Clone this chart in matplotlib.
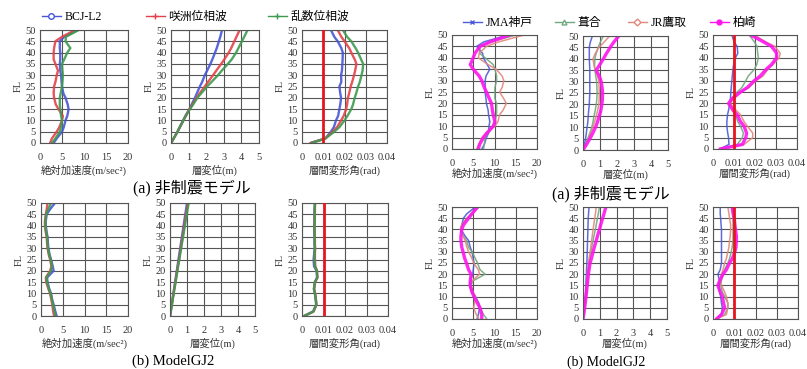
import matplotlib
matplotlib.use('Agg')
import matplotlib.pyplot as plt
from matplotlib.lines import Line2D

plt.rcParams['font.family'] = ['Liberation Serif', 'Noto Sans CJK JP']

# floor levels shared by every profile
FL = [0, 2, 5, 7, 10, 12, 15, 17, 20, 22, 25, 27, 30, 32, 35, 37, 40, 42, 45, 47, 50]

# ---- left group: BCJ-L2 / 咲洲位相波 / 乱数位相波 ----
names_l = ['BCJ-L2', '咲洲位相波', '乱数位相波']

acc_a_l = [
    [3.1, 3.8, 5.0, 5.4, 5.8, 6.2, 6.5, 6.3, 5.8, 5.3, 5.0, 4.9, 4.8, 4.6, 4.5, 4.6, 4.6, 4.5, 4.5, 5.5, 8.5],
    [2.3, 2.7, 3.8, 4.4, 5.0, 5.2, 4.2, 3.6, 3.2, 3.1, 3.2, 3.5, 3.8, 4.1, 3.5, 3.1, 3.1, 3.2, 3.5, 5.0, 8.0],
    [2.7, 3.5, 4.5, 4.8, 5.0, 4.8, 4.6, 4.5, 4.5, 4.7, 5.0, 5.1, 5.2, 5.1, 5.0, 5.5, 6.2, 6.9, 5.8, 5.9, 8.8],
]
disp_a_l = [
    [0, 0.15, 0.37, 0.5, 0.7, 0.82, 1.05, 1.17, 1.36, 1.47, 1.64, 1.77, 1.92, 2.05, 2.24, 2.35, 2.5, 2.6, 2.72, 2.8, 2.9],
    [0, 0.15, 0.37, 0.5, 0.7, 0.84, 1.05, 1.22, 1.45, 1.63, 1.92, 2.1, 2.39, 2.57, 2.85, 3.03, 3.28, 3.42, 3.6, 3.72, 3.9],
    [0, 0.15, 0.37, 0.5, 0.7, 0.84, 1.08, 1.25, 1.5, 1.72, 2.05, 2.3, 2.67, 2.88, 3.23, 3.45, 3.7, 3.83, 4.03, 4.16, 4.35],
]
drift_a_l = [
    [0.004, 0.011, 0.0136, 0.015, 0.016, 0.017, 0.0176, 0.018, 0.0184, 0.018, 0.0176, 0.0185, 0.0184, 0.0188, 0.019, 0.0191, 0.0192, 0.0185, 0.0168, 0.0152, 0.0136],
    [0.004, 0.011, 0.0144, 0.0165, 0.0184, 0.0196, 0.0208, 0.0212, 0.0216, 0.0222, 0.0229, 0.0236, 0.0245, 0.025, 0.0256, 0.0248, 0.0232, 0.0222, 0.02, 0.0185, 0.0168],
    [0.0045, 0.011, 0.0152, 0.0176, 0.02, 0.0214, 0.0232, 0.024, 0.0248, 0.0255, 0.0264, 0.0272, 0.028, 0.0285, 0.0288, 0.0278, 0.0264, 0.0252, 0.0232, 0.0212, 0.0192],
]
acc_b_l = [
    [3.6, 3.3, 2.9, 2.6, 2.3, 1.9, 1.5, 1.4, 2.9, 2.7, 2.3, 2.0, 1.7, 1.6, 1.5, 1.3, 1.1, 1.1, 1.3, 2.0, 3.2],
    [3.0, 2.8, 2.6, 2.4, 2.1, 1.7, 1.2, 1.1, 2.1, 2.4, 2.1, 1.8, 1.5, 1.4, 1.3, 1.1, 0.9, 0.9, 1.1, 1.3, 1.5],
    [3.3, 3.1, 2.8, 2.5, 2.2, 1.8, 1.4, 1.2, 2.3, 2.5, 2.2, 1.9, 1.6, 1.5, 1.4, 1.2, 1.0, 1.0, 1.2, 1.6, 2.3],
]
disp_b_l = [
    [0, 0.04, 0.1, 0.14, 0.2, 0.24, 0.3, 0.34, 0.4, 0.44, 0.5, 0.54, 0.6, 0.64, 0.7, 0.74, 0.8, 0.84, 0.9, 0.94, 1.0],
    [0, 0.04, 0.11, 0.15, 0.21, 0.25, 0.32, 0.36, 0.42, 0.46, 0.53, 0.57, 0.63, 0.67, 0.74, 0.78, 0.84, 0.88, 0.95, 0.99, 1.05],
    [0, 0.05, 0.11, 0.15, 0.22, 0.26, 0.33, 0.37, 0.44, 0.48, 0.55, 0.59, 0.66, 0.7, 0.77, 0.81, 0.88, 0.92, 0.99, 1.03, 1.1],
]
drift_b_l = [
    [0.001, 0.0052, 0.0066, 0.0064, 0.006, 0.0056, 0.006, 0.007, 0.0068, 0.0056, 0.0054, 0.0056, 0.0059, 0.0058, 0.0058, 0.0057, 0.0057, 0.0058, 0.0058, 0.0058, 0.006],
    [0.001, 0.0054, 0.0067, 0.0065, 0.0061, 0.0056, 0.0061, 0.0072, 0.007, 0.0062, 0.006, 0.006, 0.0061, 0.006, 0.006, 0.0059, 0.0059, 0.0059, 0.006, 0.006, 0.0061],
    [0.001, 0.0053, 0.0066, 0.0065, 0.006, 0.0055, 0.006, 0.0071, 0.0069, 0.006, 0.0058, 0.0058, 0.006, 0.0059, 0.0059, 0.0058, 0.0058, 0.0059, 0.0059, 0.0059, 0.006],
]

# ---- right group: JMA神戸 / 葺合 / JR鷹取 / 柏崎 ----
names_r = ['JMA神戸', '葺合', 'JR鷹取', '柏崎']

acc_a_r = [
    [7.0, 7.6, 8.1, 8.6, 8.7, 8.9, 8.6, 8.5, 8.1, 8.0, 7.8, 7.8, 7.8, 8.0, 8.9, 8.3, 7.4, 7.2, 5.8, 7.5, 13.2],
    [7.4, 7.6, 7.8, 8.6, 9.7, 10.1, 10.5, 10.5, 10.5, 10.1, 10.1, 10.1, 10.5, 10.5, 10.1, 9.7, 7.8, 6.5, 6.6, 9.0, 15.1],
    [5.8, 6.3, 7.0, 8.0, 10.1, 10.8, 11.2, 12.0, 12.8, 12.2, 11.2, 11.8, 12.2, 11.8, 10.4, 8.5, 6.2, 6.4, 8.1, 11.0, 17.0],
    [6.2, 6.5, 7.4, 8.2, 9.7, 10.1, 9.7, 9.5, 9.3, 8.8, 8.1, 7.6, 7.0, 6.4, 5.0, 4.3, 5.0, 5.4, 6.6, 9.0, 13.6],
]
disp_a_r = [
    [0, 0.07, 0.15, 0.19, 0.24, 0.28, 0.31, 0.33, 0.37, 0.38, 0.4, 0.4, 0.4, 0.4, 0.4, 0.39, 0.37, 0.37, 0.37, 0.42, 0.55],
    [0, 0.12, 0.28, 0.38, 0.52, 0.58, 0.65, 0.71, 0.78, 0.81, 0.83, 0.82, 0.8, 0.76, 0.7, 0.68, 0.7, 0.76, 0.89, 1.0, 1.2],
    [0, 0.13, 0.33, 0.44, 0.59, 0.67, 0.78, 0.85, 0.93, 0.95, 0.96, 0.95, 0.93, 0.87, 0.74, 0.65, 0.59, 0.7, 0.93, 1.2, 1.57],
    [0, 0.17, 0.41, 0.55, 0.74, 0.84, 0.96, 1.04, 1.11, 1.14, 1.15, 1.13, 1.07, 0.98, 0.78, 0.95, 1.2, 1.35, 1.6, 1.78, 2.1],
]
drift_a_r = [
    [0.0033, 0.0076, 0.0074, 0.007, 0.0066, 0.0066, 0.0069, 0.0074, 0.008, 0.0083, 0.0085, 0.0087, 0.009, 0.0092, 0.0095, 0.0098, 0.0107, 0.0118, 0.0115, 0.01, 0.009],
    [0.004, 0.0115, 0.014, 0.0145, 0.0131, 0.0118, 0.0107, 0.0098, 0.0082, 0.0088, 0.0115, 0.0138, 0.0156, 0.0168, 0.0197, 0.0208, 0.0216, 0.0213, 0.021, 0.0197, 0.0172],
    [0.0033, 0.0148, 0.0189, 0.0189, 0.0164, 0.0148, 0.0131, 0.011, 0.0082, 0.0098, 0.0131, 0.0172, 0.0205, 0.0238, 0.0262, 0.0285, 0.0315, 0.032, 0.0295, 0.025, 0.0197],
    [0.0033, 0.014, 0.0156, 0.016, 0.0148, 0.0131, 0.0115, 0.0095, 0.0074, 0.009, 0.0131, 0.0164, 0.0197, 0.0225, 0.0254, 0.0278, 0.0303, 0.0303, 0.0279, 0.024, 0.018],
]
acc_b_r = [
    [5.9, 6.2, 6.5, 6.3, 5.5, 4.7, 4.1, 4.3, 4.9, 5.0, 5.2, 5.0, 4.7, 4.3, 3.9, 3.1, 2.1, 2.3, 2.7, 3.5, 5.5],
    [8.2, 7.4, 6.6, 6.3, 5.5, 4.9, 4.5, 4.9, 7.8, 6.6, 6.0, 5.5, 4.7, 3.9, 3.4, 2.7, 2.0, 2.3, 3.5, 4.7, 6.3],
    [6.3, 5.7, 5.1, 5.3, 5.5, 4.9, 4.3, 4.7, 6.5, 6.2, 5.1, 4.7, 3.9, 3.5, 3.1, 2.6, 2.0, 2.3, 3.5, 4.7, 6.0],
    [7.0, 7.0, 6.6, 6.0, 5.2, 4.7, 4.3, 4.3, 4.5, 3.9, 3.4, 3.0, 2.6, 2.3, 2.1, 2.1, 2.3, 2.7, 3.9, 4.7, 6.0],
]
disp_b_r = [
    [0, 0.04, 0.08, 0.1, 0.13, 0.15, 0.17, 0.18, 0.2, 0.21, 0.23, 0.24, 0.25, 0.26, 0.27, 0.28, 0.29, 0.3, 0.31, 0.33, 0.36],
    [0, 0.04, 0.09, 0.12, 0.17, 0.19, 0.23, 0.26, 0.29, 0.32, 0.36, 0.41, 0.47, 0.52, 0.6, 0.65, 0.74, 0.79, 0.86, 0.91, 0.98],
    [0, 0.04, 0.09, 0.12, 0.16, 0.18, 0.21, 0.23, 0.26, 0.28, 0.32, 0.36, 0.42, 0.46, 0.51, 0.55, 0.6, 0.64, 0.7, 0.74, 0.79],
    [0, 0.04, 0.1, 0.13, 0.18, 0.21, 0.25, 0.28, 0.32, 0.36, 0.42, 0.5, 0.6, 0.67, 0.79, 0.86, 0.98, 1.05, 1.17, 1.25, 1.36],
]
drift_b_r = [
    [0.0016, 0.004, 0.0044, 0.004, 0.0036, 0.0031, 0.0028, 0.0031, 0.0023, 0.0034, 0.004, 0.004, 0.004, 0.004, 0.004, 0.004, 0.004, 0.0038, 0.0036, 0.0034, 0.0034],
    [0.0016, 0.0055, 0.007, 0.007, 0.0055, 0.0044, 0.0036, 0.0039, 0.0047, 0.0055, 0.007, 0.0078, 0.0086, 0.009, 0.0094, 0.0094, 0.0094, 0.0094, 0.0094, 0.0092, 0.009],
    [0.0016, 0.0063, 0.007, 0.007, 0.0063, 0.0055, 0.004, 0.0034, 0.004, 0.0047, 0.0055, 0.0063, 0.007, 0.0075, 0.0078, 0.0081, 0.0083, 0.0083, 0.0078, 0.0075, 0.007],
    [0.0016, 0.004, 0.0055, 0.005, 0.0044, 0.0034, 0.0023, 0.0031, 0.0047, 0.0063, 0.0078, 0.0091, 0.0103, 0.0108, 0.011, 0.011, 0.0106, 0.0103, 0.01, 0.0095, 0.009],
]

# x-axis settings per response quantity
xlabels = ['絶対加速度(m/sec²)', '層変位(m)', '層間変形角(rad)']
xticks = [[0, 5, 10, 15, 20], [0, 1, 2, 3, 4, 5], [0, 0.01, 0.02, 0.03, 0.04]]
xticklabels = [['0', '5', '10', '15', '20'], ['0', '1', '2', '3', '4', '5'],
               ['0', '0.01', '0.02', '0.03', '0.04']]
drift_limit = 0.01

col_l = ['#4656d6', '#e4424a', '#3f9a50']
col_r = ['#4c5cd8', '#72a880', '#e2877e', '#ff14ee']
lw_l = [1.7, 1.7, 1.7]
lw_r = [1.1, 1.1, 1.1, 2.4]
mk_l = ['o', '+', '+']
mk_r = ['x', '^', 'D', 'o']

W, H = 807, 369
fig = plt.figure(figsize=(W / 100, H / 100), dpi=100)


def add_ax(l, t, r, b):
    return fig.add_axes([l / W, 1 - b / H, (r - l) / W, (b - t) / H])


def panel(ax, k, series, colors, widths, xpad):
    for vals, c, w in zip(series, colors, widths):
        ax.plot(vals, FL, color=c, lw=w, alpha=0.9, solid_capstyle='round')
    if k == 2:
        ax.axvline(drift_limit, color='#e8141e', lw=2.0, zorder=3)
    ax.set_xlim(xticks[k][0], xticks[k][-1])
    ax.set_ylim(0, 50)
    ax.set_xticks(xticks[k])
    ax.set_xticklabels(xticklabels[k])
    ax.set_yticks(range(0, 51, 5))
    ax.tick_params(length=0, labelsize=7.5, colors='#333333', pad=3)
    ax.tick_params(axis='x', pad=7)
    ax.grid(True, color='#555555', lw=0.8)
    ax.set_axisbelow(True)
    for s in ax.spines.values():
        s.set_color('#555555')
        s.set_linewidth(0.8)
    ax.set_xlabel(xlabels[k], fontsize=7.5, labelpad=xpad, color='#333333')
    ax.set_ylabel('FL', fontsize=7.5, labelpad=2, color='#333333')


boxes_l_a = [(40, 30, 128, 143), (171, 30, 259, 143), (302, 30, 387, 143)]
boxes_l_b = [(41, 203, 128, 316), (170, 203, 255, 316), (302, 203, 388, 316)]
boxes_r_a = [(452, 35, 537, 149), (583, 36, 668, 150), (713, 35, 797, 149)]
boxes_r_b = [(452, 207, 537, 319), (583, 207, 667, 319), (713, 207, 798, 319)]

for k, data in enumerate([acc_a_l, disp_a_l, drift_a_l]):
    panel(add_ax(*boxes_l_a[k]), k, data, col_l, lw_l, 2)
for k, data in enumerate([acc_b_l, disp_b_l, drift_b_l]):
    panel(add_ax(*boxes_l_b[k]), k, data, col_l, lw_l, 2)
for k, data in enumerate([acc_a_r, disp_a_r, drift_a_r]):
    panel(add_ax(*boxes_r_a[k]), k, data, col_r, lw_r, 0)
for k, data in enumerate([acc_b_r, disp_b_r, drift_b_r]):
    panel(add_ax(*boxes_r_b[k]), k, data, col_r, lw_r, 0)

# legend entries spread above the panels
leg_pos_l = [(42, 17), (146, 17), (268, 17)]
leg_pos_r = [(463, 23), (555, 23), (628, 23), (710, 23)]
for name, c, m, (x, y) in zip(names_l, col_l, mk_l, leg_pos_l):
    h = Line2D([], [], color=c, lw=1.0, marker=m, markersize=4,
               markerfacecolor='white' if m == 'o' else c)
    fig.legend([h], [name], loc='center left', bbox_to_anchor=(x / W, 1 - y / H),
               frameon=False, fontsize=8.5, handlelength=1.6, handletextpad=0.3,
               borderpad=0, borderaxespad=0)
for name, c, m, (x, y) in zip(names_r, col_r, mk_r, leg_pos_r):
    h = Line2D([], [], color=c, lw=1.0, marker=m, markersize=3.5,
               markerfacecolor=c if name == '柏崎' else 'white')
    fig.legend([h], [name], loc='center left', bbox_to_anchor=(x / W, 1 - y / H),
               frameon=False, fontsize=8.5, handlelength=1.6, handletextpad=0.3,
               borderpad=0, borderaxespad=0)

# sub-figure captions
fig.text(133 / W, 1 - 188 / H, '(a) 非制震モデル', fontsize=11.5, va='center', ha='left')
fig.text(132 / W, 1 - 361 / H, '(b) ModelGJ2', fontsize=10.5, va='center', ha='left')
fig.text(552 / W, 1 - 194 / H, '(a) 非制震モデル', fontsize=11.5, va='center', ha='left')
fig.text(567 / W, 1 - 362 / H, '(b) ModelGJ2', fontsize=10, va='center', ha='left')

fig.savefig('out.png', dpi=100)
